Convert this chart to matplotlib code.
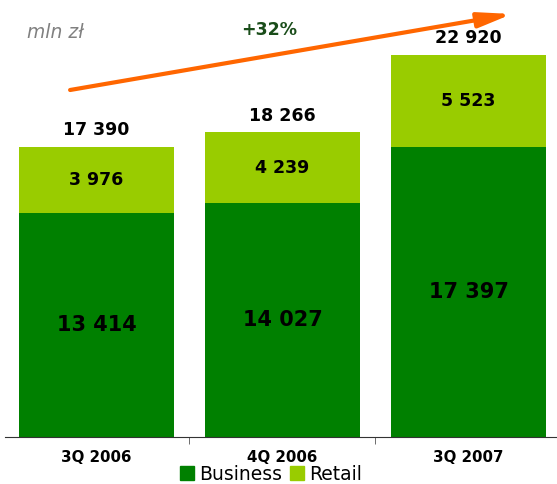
import matplotlib

matplotlib.use("Agg")
import matplotlib.pyplot as plt
import numpy as np
from matplotlib.patches import Patch

# data
quarters = ["3Q 2006", "4Q 2006", "3Q 2007"]
business = [13414, 14027, 17397]
retail = [3976, 4239, 5523]
totals = [17390, 18266, 22920]
growth_label = "+32%"
unit_label = "mln zł"


def fmt(v):
    return f"{v:,}".replace(",", " ")


BUSINESS_COLOR = "#008000"
RETAIL_COLOR = "#99cc00"

fig = plt.figure(figsize=(5.57, 4.84), dpi=100)
ax = fig.add_axes([5 / 557, 47 / 484, 552 / 557, 437 / 484])

x = np.arange(len(quarters))
width = 0.83
ax.bar(x, business, width, color=BUSINESS_COLOR, label="Business")
ax.bar(x, retail, width, bottom=business, color=RETAIL_COLOR, label="Retail")

for xi, b, r, t in zip(x, business, retail, totals):
    ax.text(xi, b / 2, fmt(b), ha="center", va="center", fontsize=15,
            fontweight="heavy", color="black")
    ax.text(xi, b + r / 2, fmt(r), ha="center", va="center", fontsize=12.5,
            fontweight="bold", color="black")
    ax.text(xi, t + 450, fmt(t), ha="center", va="bottom", fontsize=12.5,
            fontweight="bold", color="black")

# tick marks between the bars, labels under the bar centres
ax.set_xticks(np.arange(len(quarters) + 1) - 0.5, minor=True)
ax.set_xticks(x)
ax.set_xticklabels(quarters, fontsize=10.8, fontweight="bold")
ax.tick_params(axis="x", which="major", length=0, pad=9)
ax.tick_params(axis="x", which="minor", length=5, direction="out", color="#555555")
ax.set_yticks([])
ax.set_xlim(-0.492, 2.476)
ax.set_ylim(0, 26205)
for side in ["left", "right", "top"]:
    ax.spines[side].set_visible(False)
ax.spines["bottom"].set_color("#333333")

# growth arrow
ax.annotate("", xy=(2.234, 25366), xytext=(-0.142, 20808),
            arrowprops=dict(arrowstyle="-|>,head_length=2.0,head_width=0.45",
                            color="#ff6600", lw=3, shrinkA=0, shrinkB=0))
fig.text(269 / 557, 1 - 30 / 484, growth_label, ha="center", va="center",
         fontsize=12.5, fontweight="bold", color="#1a4d1a")
fig.text(27 / 557, 1 - 32 / 484, unit_label, ha="left", va="center",
         fontsize=13.5, style="italic", color="#808080")

handles = [Patch(color=BUSINESS_COLOR, label="Business"),
           Patch(color=RETAIL_COLOR, label="Retail")]
fig.legend(handles=handles, loc="center", bbox_to_anchor=(271 / 557, 1 - 474 / 484),
           ncol=2, frameon=False, fontsize=13.5, handlelength=0.75, handleheight=0.75,
           handletextpad=0.3, columnspacing=0.4, borderpad=0)

fig.savefig("out.png", dpi=100)
plt.close(fig)
